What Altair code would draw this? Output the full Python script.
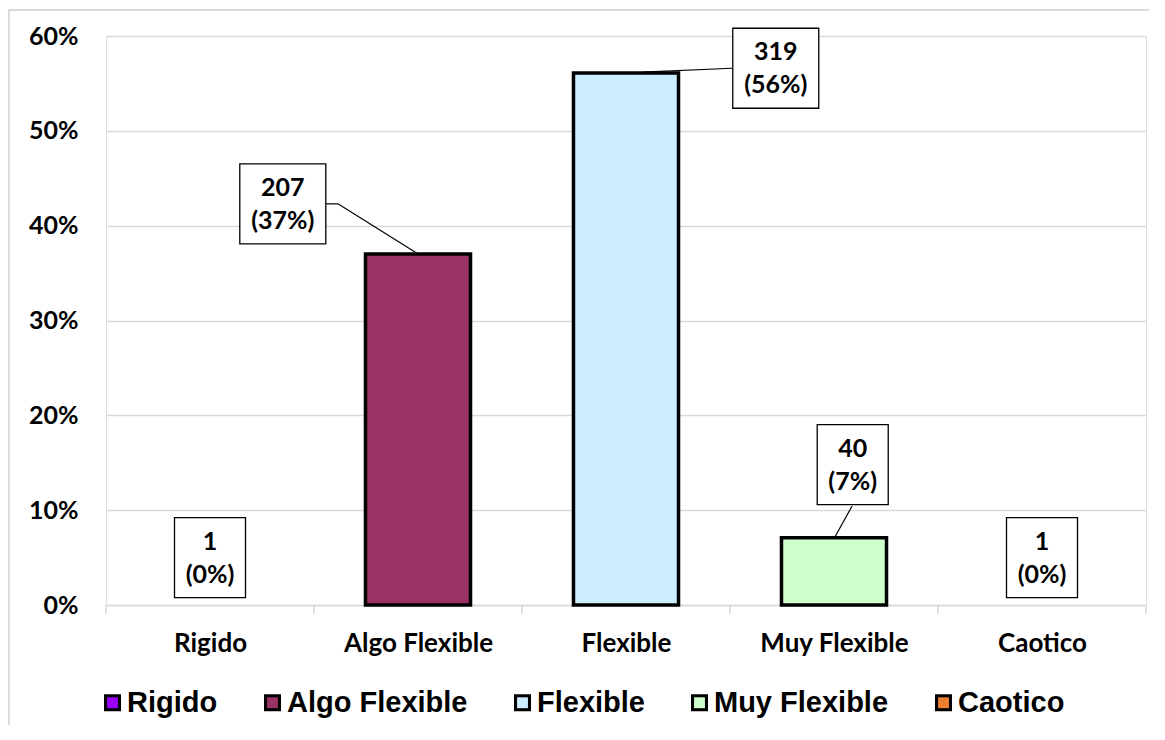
import json
import altair as alt
import pandas as pd

# ---------------- data ----------------
categories = ["Rigido", "Algo Flexible", "Flexible", "Muy Flexible", "Caotico"]
counts = [1, 207, 319, 40, 1]
pct_labels = ["0%", "37%", "56%", "7%", "0%"]
bar_pct = [0, 37.0, 56.1, 7.1, 0]
colors = ["#9900FF", "#993366", "#CCECFF", "#CCFFCC", "#ED7D31"]
y_ticks = [0, 10, 20, 30, 40, 50, 60]

# data-label box centres (axis units)
label_x = [0.0, 0.35, 2.72, 3.09, 4.0]
label_y = [5.0, 42.3, 56.6, 14.8, 5.0]

# leader line segments (axis units)
leader_x = [0.558, 0.615, 2.51, 3.087]
leader_y = [42.3, 42.3, 56.6, 10.44]
leader_x2 = [0.615, 0.995, 2.08, 3.005]
leader_y2 = [42.3, 37.1, 56.2, 7.2]

# ---------------- tables ----------------
HALF = 0.2525
bars = pd.DataFrame({
    "cat": categories,
    "pct": bar_pct,
    "x0": [i - HALF for i in range(len(categories))],
    "x1": [i + HALF for i in range(len(categories))],
})

def box_path(n_chars):
    hw = 1.075 if n_chars >= 3 else 0.8875
    return f"M-{hw},-1L{hw},-1L{hw},1L-{hw},1Z"

labels = pd.DataFrame({
    "lx": label_x,
    "ly": label_y,
    "txt": [f"{c}\n({p})" for c, p in zip(counts, pct_labels)],
    "shape": [box_path(len(str(c))) for c in counts],
})

leaders = pd.DataFrame({"x": leader_x, "y": leader_y, "x2": leader_x2, "y2": leader_y2})
bounds = pd.DataFrame({"b": [i - 0.5 for i in range(len(categories) + 1)]})

GRAY = "#d9d9d9"
FONT = "Lato"

xs = alt.Scale(domain=[-0.5, len(categories) - 0.5], nice=False, zero=False)
ys = alt.Scale(domain=[0, 60], nice=False, zero=True)

X_AX = alt.Axis(
    values=list(range(len(categories))),
    labelExpr=f"{json.dumps(categories)}[datum.value]",
    grid=False, ticks=False, tickSize=0,
    domainColor=GRAY, domainWidth=1.5,
    labelFont=FONT, labelFontWeight="bold", labelFontSize=26,
    labelColor="black", labelPadding=25, labelLimit=400, title=None,
)
Y_AX = alt.Axis(
    values=y_ticks,
    labelExpr="datum.value + '%'",
    grid=True, gridColor=GRAY, gridWidth=1.3,
    domain=False, ticks=False, tickSize=0,
    labelFont=FONT, labelFontWeight="bold", labelFontSize=25,
    labelColor="black", labelPadding=28, title=None,
)

# both legends share the same layout; the coloured one draws a smaller inner
# square (its path still spans the full box so both lay out identically)
OUTER_SQ = "M-1,-1L1,-1L1,1L-1,1Z"
INNER_SQ = "M-1,-1M1,1M-0.64,-0.64L0.64,-0.64L0.64,0.64L-0.64,0.64Z"
LEG_COMMON = dict(
    orient="none", legendX=-8, legendY=652, direction="horizontal",
    title=None, symbolSize=289, symbolOffset=0, symbolOpacity=1, symbolStrokeWidth=0,
    labelFont="Liberation Sans", labelFontWeight="bold", labelFontSize=29,
    labelColor="black", columnPadding=40, labelOffset=0, labelLimit=400,
)
LEG_FILL = alt.Legend(zindex=2, symbolType=INNER_SQ, **LEG_COMMON)
LEG_EDGE = alt.Legend(zindex=1, symbolType=OUTER_SQ, labelOpacity=0, **LEG_COMMON)

frame_left = alt.Chart(bars).mark_rule(color=GRAY, strokeWidth=1.5).encode(
    x=alt.value(-97.5), y=alt.value(-26), y2=alt.value(700)
)
frame_top = alt.Chart(bars).mark_rule(color=GRAY, strokeWidth=1.5).encode(
    x=alt.value(-97.5), x2=alt.value(1100), y=alt.value(-26)
)

ticks = alt.Chart(bounds).mark_rule(color=GRAY, strokeWidth=1.5).encode(
    x=alt.X("b:Q", scale=xs, axis=X_AX),
    y=alt.value(569), y2=alt.value(578),
)

# invisible points: only provide the black outline swatches of the legend
edge_legend_layer = alt.Chart(bars).mark_point(
    shape="square", filled=True, opacity=0
).encode(
    color=alt.Color(
        "cat:N",
        sort=categories,
        scale=alt.Scale(range=["#000000"] * len(categories)),
        legend=LEG_EDGE,
    ),
)

bar_layer = alt.Chart(bars).transform_filter("datum.pct > 0").mark_rect(
    stroke="black", strokeWidth=3.5
).encode(
    x=alt.X("x0:Q", scale=xs, axis=X_AX),
    x2="x1:Q",
    y=alt.Y("pct:Q", scale=ys, axis=Y_AX),
    y2=alt.datum(0),
    fill=alt.Fill("cat:N", scale=alt.Scale(domain=categories, range=colors), legend=LEG_FILL),
)

leader_layer = alt.Chart(leaders).mark_rule(color="black", strokeWidth=1.2).encode(
    x=alt.X("x:Q", scale=xs, axis=X_AX),
    y=alt.Y("y:Q", scale=ys, axis=Y_AX),
    x2="x2:Q", y2="y2:Q",
)

box_layer = alt.Chart(labels).mark_point(
    filled=True, fill="white", stroke="black", strokeWidth=1.3, opacity=1, size=6400
).encode(
    x=alt.X("lx:Q", scale=xs, axis=X_AX),
    y=alt.Y("ly:Q", scale=ys, axis=Y_AX),
    shape=alt.Shape("shape:N", scale=None),
)

text_layer = alt.Chart(labels).mark_text(
    font=FONT, fontWeight="bold", fontSize=25, lineBreak="\n", lineHeight=33,
    baseline="middle", align="center", color="black", dy=-16,
).encode(
    x=alt.X("lx:Q", scale=xs, axis=X_AX),
    y=alt.Y("ly:Q", scale=ys, axis=Y_AX),
    text="txt:N",
)

chart = alt.layer(
    frame_left, frame_top, ticks, edge_legend_layer, bar_layer,
    leader_layer, box_layer, text_layer
).properties(
    width=1040, height=569,
    padding={"left": 98, "top": 28, "right": 3, "bottom": 120},
    autosize=alt.AutoSizeParams(type="none"),
).configure_view(stroke=None).configure(background="white")

chart.save("out.html", embed_options={"renderer": "svg", "actions": False})
